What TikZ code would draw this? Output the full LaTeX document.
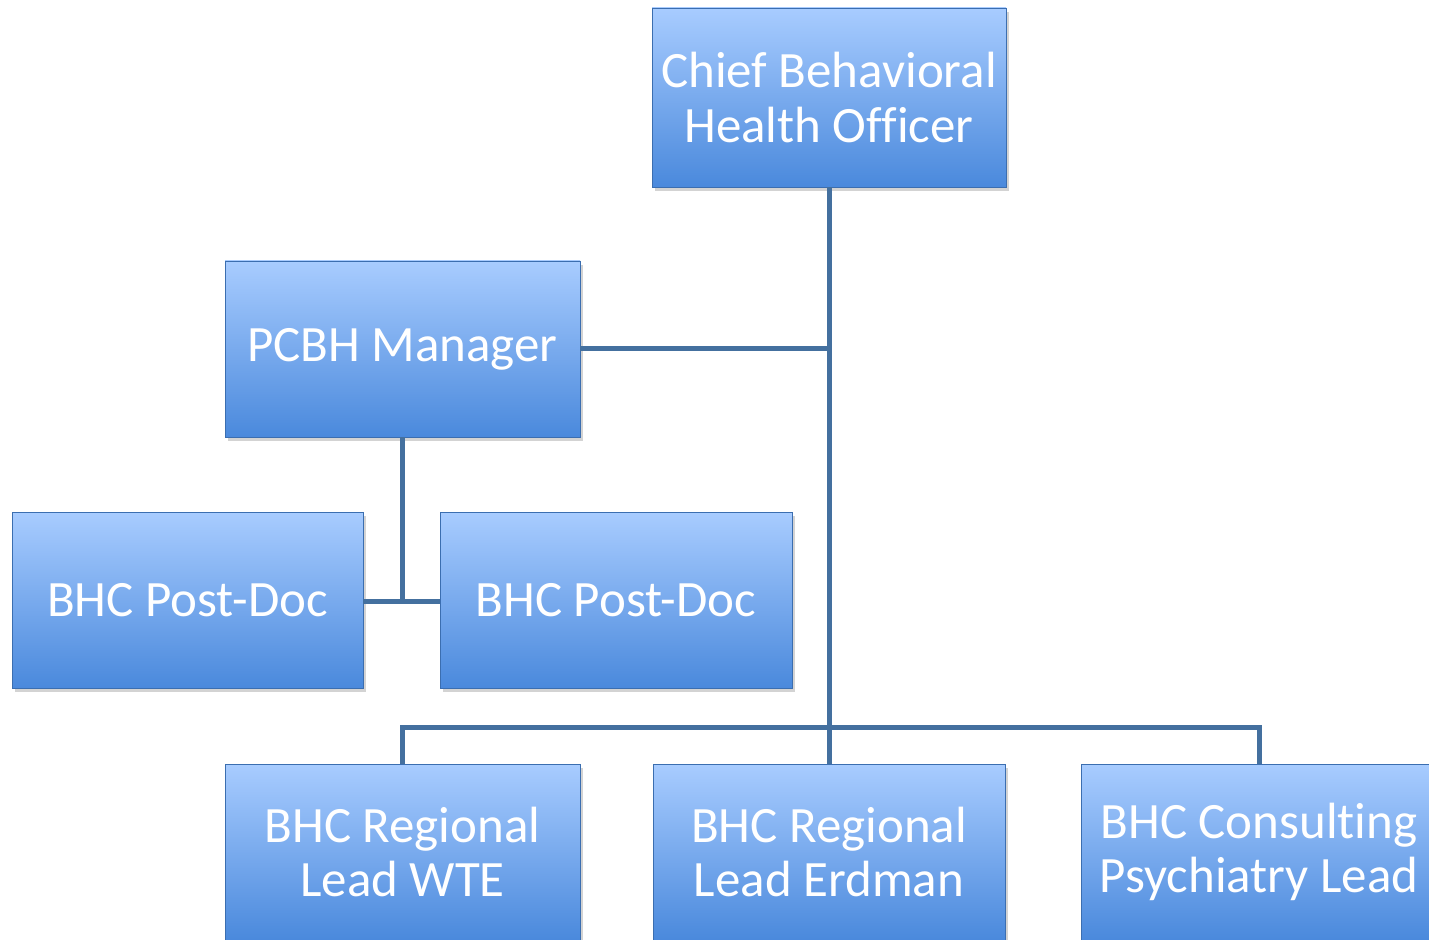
\documentclass[tikz,border=0pt]{standalone}
\usepackage{fontspec}
\setmainfont[Ligatures=NoCommon]{Carlito}
\usetikzlibrary{shadows}

\definecolor{boxtop}{HTML}{A8CCFF}
\definecolor{boxbot}{HTML}{4A89DC}
\definecolor{linkblue}{HTML}{44709F}

\begin{document}
\begin{tikzpicture}
  \tikzstyle{every node}=[shape=rectangle, top color=boxtop, bottom color=boxbot,
    draw=boxbot!80!black, line width=0.3pt, text=white, align=center,
    drop shadow={shadow xshift=0.6mm, shadow yshift=-0.8mm, opacity=0.35},
    font=\fontsize{29}{31}\selectfont, inner sep=0pt]
  \tikzstyle{link}=[draw=linkblue, line width=1mm]
  \useasboundingbox (0mm,0mm) rectangle (285.8mm,-188mm);
  \node (chief)    at (165.8mm, -19.5mm) [minimum width=70.8mm, minimum height=35.8mm] {Chief Behavioral\\Health Officer};
  \node (pcbh)     at ( 80.5mm, -69.8mm) [minimum width=71mm, minimum height=35.2mm] {PCBH Manager};
  \node (postdocA) at ( 37.5mm,-120.0mm) [minimum width=70.2mm, minimum height=35.2mm] {BHC Post-Doc};
  \node (postdocB) at (123.2mm,-120.0mm) [minimum width=70.4mm, minimum height=35.2mm] {BHC Post-Doc};
  \node (leadwte)  at ( 80.5mm,-170.4mm) [minimum width=71mm, minimum height=35.2mm] {BHC Regional\\Lead WTE};
  \node (leaderd)  at (165.8mm,-170.4mm) [minimum width=70.4mm, minimum height=35.2mm] {BHC Regional\\Lead Erdman};
  \node (psych)    at (251.8mm,-170.4mm) [minimum width=71mm, minimum height=35.2mm] {BHC Consulting\\Psychiatry Lead};
% joints of the connector tree
  \coordinate (spine)   at (165.8mm,-145.4mm);
  \coordinate (docjoin) at ( 80.5mm,-120.2mm);
  \draw[link] (chief.south) -- (spine);
  \draw[link] (pcbh.east) -- (pcbh.east -| spine);
  \draw[link] (pcbh.south) -- (docjoin);
  \draw[link] (postdocA.east |- docjoin) -- (postdocB.west |- docjoin);
  \draw[link] (leadwte.north) |- (spine) -| (psych.north);
  \draw[link] (spine) -- (leaderd.north);
\end{tikzpicture}
\end{document}
